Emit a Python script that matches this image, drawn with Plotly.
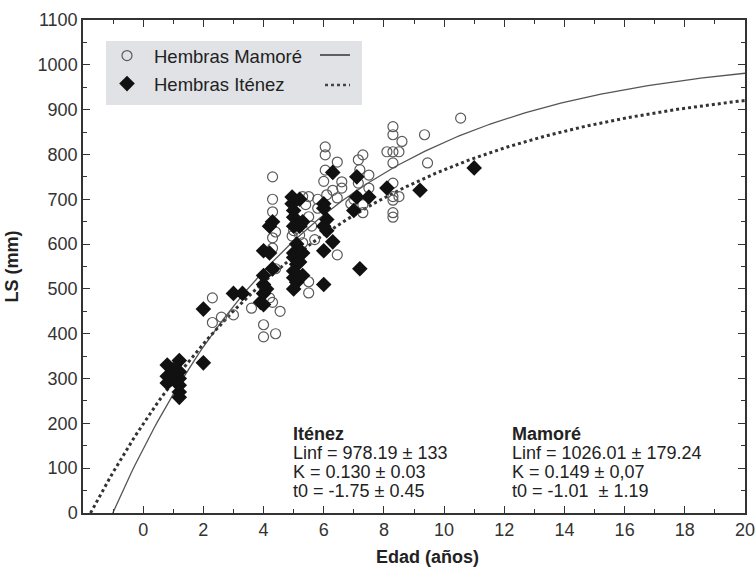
import numpy as np
import plotly.graph_objects as go

# ---- data ----
mamore_age = [2.3, 2.3, 2.6, 3.0, 3.6, 4.0, 4.0, 4.4, 4.2, 4.3, 4.55, 4.3, 4.3, 4.3, 4.4, 4.3, 4.3, 4.4,
              4.95, 5.3, 5.5, 5.4, 5.5, 5.5, 5.5, 5.3, 5.2, 5.0, 5.6, 5.7, 6.05, 6.05, 6.45, 6.05, 6.6,
              6.1, 6.45, 6.45, 6.0, 6.3, 6.6, 5.8, 5.8, 7.3, 7.15, 7.2, 7.5, 7.15, 7.5, 7.1, 7.3, 7.3,
              8.1, 8.3, 8.5, 8.3, 8.3, 8.6, 8.3, 8.3, 8.3, 8.5, 8.3, 8.3, 8.3, 9.35, 9.45, 10.55, 7.0, 6.9]
mamore_ls = [425, 480, 437, 442, 457, 420, 393, 400, 480, 470, 450, 750, 700, 672, 627, 614, 591, 545,
             618, 706, 706, 688, 661, 516, 491, 603, 620, 630, 640, 610, 817, 799, 783, 765, 739,
             710, 703, 576, 740, 720, 725, 700, 680, 799, 788, 766, 754, 736, 725, 706, 688, 670,
             806, 806, 806, 862, 844, 829, 781, 736, 706, 706, 698, 670, 660, 844, 781, 881, 700, 690]

itenez_age = [0.8, 0.8, 0.8, 1.0, 1.0, 1.2, 1.2, 1.2, 1.2, 1.2, 1.2, 2.0, 2.0, 3.0, 3.3,
              3.9, 4.0, 4.0, 4.0, 4.0, 4.0, 4.1, 4.2, 4.3, 4.3, 4.2,
              4.95, 4.95, 5.0, 5.0, 5.0, 5.1, 5.0, 5.0, 5.1, 5.0, 5.0, 5.1, 5.0, 5.2, 5.2, 5.3, 5.3, 5.3, 5.2,
              6.0, 6.0, 6.1, 6.0, 6.1, 6.0, 6.3, 6.3, 6.0,
              7.0, 7.1, 7.1, 7.5, 7.2, 8.1, 9.2, 11.0]
itenez_ls = [330, 305, 290, 320, 300, 340, 315, 300, 285, 270, 258, 455, 335, 490, 490,
             470, 585, 530, 510, 490, 465, 500, 580, 545, 650, 640,
             705, 690, 675, 660, 640, 600, 580, 570, 555, 540, 525, 515, 500, 640, 560, 580, 530, 650, 700,
             690, 680, 655, 640, 630, 585, 605, 760, 510,
             675, 750, 705, 705, 545, 725, 720, 770]

# von Bertalanffy parameters printed on the chart
itenez_linf, itenez_k, itenez_t0 = 978.19, 0.130, -1.75
mamore_linf, mamore_k, mamore_t0 = 1026.01, 0.149, -1.01

itenez_text = ["<b>Iténez</b>", "Linf = 978.19 ± 133", "K = 0.130 ± 0.03", "t0 = -1.75 ± 0.45"]
mamore_text = ["<b>Mamoré</b>", "Linf = 1026.01 ± 179.24", "K = 0.149 ± 0,07", "t0 = -1.01  ± 1.19"]

x_tickvals = list(range(0, 21, 2))
y_tickvals = list(range(0, 1101, 100))

FONT = "Liberation Sans, Arial, sans-serif"
FS = 18

def vb(linf, k, t0):
    t = np.linspace(t0, 20, 200)
    return t, linf * (1 - np.exp(-k * (t - t0)))

fig = go.Figure()

tm, lm = vb(mamore_linf, mamore_k, mamore_t0)
ti, li = vb(itenez_linf, itenez_k, itenez_t0)

fig.add_trace(go.Scatter(x=tm, y=lm, mode="lines", line=dict(color="#555555", width=1.3),
                         showlegend=False, hoverinfo="skip"))
fig.add_trace(go.Scatter(x=ti, y=li, mode="lines", line=dict(color="#333333", width=3, dash="dot"),
                         showlegend=False, hoverinfo="skip"))

fig.add_trace(go.Scatter(x=mamore_age, y=mamore_ls, mode="markers", name="Hembras Mamoré",
                         legendgroup="m",
                         marker=dict(symbol="circle-open", size=10, color="#5a5a5a", line=dict(width=1.2))))
fig.add_trace(go.Scatter(x=itenez_age, y=itenez_ls, mode="markers", name="Hembras Iténez",
                         legendgroup="i",
                         marker=dict(symbol="diamond", size=12, color="#111111")))

# plot area pixels: x 83..745, y 20..513
def px_x(p):
    return (p - 83) / 662
def px_y(p):
    return (513 - p) / 493

shapes = [
    dict(type="rect", xref="paper", yref="paper", x0=px_x(106), x1=px_x(362), y0=px_y(105), y1=px_y(41),
         fillcolor="#e1e2e6", line=dict(width=0), layer="below"),
    dict(type="line", xref="paper", yref="paper", x0=px_x(320), x1=px_x(350), y0=px_y(55), y1=px_y(55),
         line=dict(color="#333333", width=1.5)),
    dict(type="line", xref="paper", yref="paper", x0=px_x(325), x1=px_x(350), y0=px_y(85), y1=px_y(85),
         line=dict(color="#444444", width=2.5, dash="dot")),
]

annotations = []
line_y = [434, 453, 472, 491]
for txt, yy in zip(itenez_text, line_y):
    annotations.append(dict(xref="paper", yref="paper", x=px_x(291), y=px_y(yy), xanchor="left",
                            yanchor="middle", showarrow=False, text=txt,
                            font=dict(family=FONT, size=FS, color="#222222")))
for txt, yy in zip(mamore_text, line_y):
    annotations.append(dict(xref="paper", yref="paper", x=px_x(510), y=px_y(yy), xanchor="left",
                            yanchor="middle", showarrow=False, text=txt,
                            font=dict(family=FONT, size=FS, color="#222222")))
annotations.append(dict(xref="paper", yref="paper", x=px_x(427), y=px_y(557), xanchor="center",
                        yanchor="middle", showarrow=False, text="<b>Edad (años)</b>",
                        font=dict(family=FONT, size=FS, color="#222222")))

axis_common = dict(showline=True, linecolor="#333333", linewidth=1.5, mirror="ticks",
                   ticks="inside", ticklen=7, tickwidth=1.3, tickcolor="#333333",
                   showgrid=False, zeroline=False, automargin=False,
                   tickfont=dict(family=FONT, size=FS, color="#333333"))

fig.update_layout(
    width=756, height=568,
    margin=dict(l=83, r=11, t=20, b=55),
    paper_bgcolor="white", plot_bgcolor="white",
    xaxis=dict(range=[-2, 20], tickvals=x_tickvals,
               minor=dict(dtick=1, ticks="inside", ticklen=4, tickcolor="#333333"),
               **axis_common),
    yaxis=dict(range=[0, 1100], tickvals=y_tickvals,
               minor=dict(dtick=50, ticks="inside", ticklen=4, tickcolor="#333333"),
               title=dict(text="<b>LS (mm)</b>", font=dict(family=FONT, size=FS, color="#222222"), standoff=14),
               **axis_common),
    legend=dict(x=px_x(100), y=px_y(37), xanchor="left", yanchor="top", bgcolor="rgba(0,0,0,0)",
                font=dict(family=FONT, size=18.5, color="#222222"), tracegroupgap=1, itemwidth=44),
    shapes=shapes,
    annotations=annotations,
)

fig.write_html("out.html", config={"displayModeBar": False},
               post_script="document.body.style.margin='0';")
